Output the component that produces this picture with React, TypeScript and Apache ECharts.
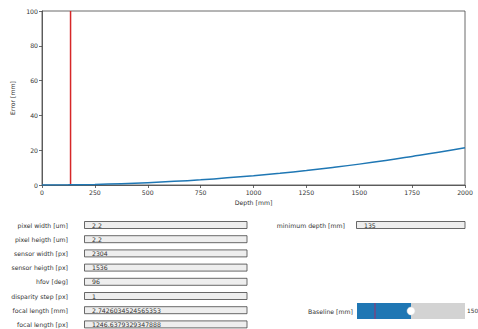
import React, { useEffect, useRef } from "react";
import * as echarts from "echarts";

const depthsMm = [0, 125, 250, 375, 500, 625, 750, 875, 1000, 1125, 1250, 1375, 1500, 1625, 1750, 1875, 2000];
const errorsMm = [0, 0.08, 0.33, 0.75, 1.34, 2.09, 3.0, 4.1, 5.35, 6.77, 8.36, 10.1, 12.0, 14.1, 16.4, 18.8, 21.4];
const minDepth = 135;
const xTicks = { min: 0, max: 2000, interval: 250 };
const yTicks = { min: 0, max: 100, interval: 20 };

const fieldLabels = [
  "pixel width [um]",
  "pixel heigth [um]",
  "sensor width [px]",
  "sensor heigth [px]",
  "hfov [deg]",
  "disparity step [px]",
  "focal length [mm]",
  "focal length [px]",
];
const fieldValues = ["2.2", "2.2", "2304", "1536", "96", "1", "2.7426034524565353", "1246.6379329347888"];

const sliderMin = 0;
const sliderMax = 300;
const sliderValue = 150;
const sliderInit = 50;

const FONT = "DejaVu Sans";
const FS = 6.2;
const TXT = "#333";

export default function App() {
  const ref = useRef<HTMLDivElement>(null);
  useEffect(() => {
    if (!ref.current) return;
    const chart = echarts.init(ref.current, null, { renderer: "svg" });

    const graphics: any[] = [];
    const rowY0 = 225;
    const rowStep = 14.2;
    fieldLabels.forEach((lab, i) => {
      const cy = rowY0 + i * rowStep;
      graphics.push({
        type: "text",
        x: 68,
        y: cy,
        style: { text: lab, fontSize: FS, fontFamily: FONT, fill: TXT, align: "right", verticalAlign: "middle" },
      });
      graphics.push({
        type: "rect",
        shape: { x: 84.5, y: cy - 3.5, width: 162.5, height: 7 },
        style: { fill: "#eeeeee", stroke: "#444", lineWidth: 0.8 },
      });
      graphics.push({
        type: "text",
        x: 92,
        y: cy,
        style: { text: fieldValues[i], fontSize: FS, fontFamily: FONT, fill: TXT, align: "left", verticalAlign: "middle" },
      });
    });

    // minimum depth box
    graphics.push({
      type: "text",
      x: 345,
      y: 225,
      style: { text: "minimum depth [mm]", fontSize: FS, fontFamily: FONT, fill: TXT, align: "right", verticalAlign: "middle" },
    });
    graphics.push({
      type: "rect",
      shape: { x: 356.5, y: 221.5, width: 108.5, height: 7 },
      style: { fill: "#eeeeee", stroke: "#444", lineWidth: 0.8 },
    });
    graphics.push({
      type: "text",
      x: 364,
      y: 225,
      style: { text: String(minDepth), fontSize: FS, fontFamily: FONT, fill: TXT, align: "left", verticalAlign: "middle" },
    });

    // slider
    const sx = 357, sw = 108, sy = 303, sh = 16;
    const frac = (sliderValue - sliderMin) / (sliderMax - sliderMin);
    const initFrac = (sliderInit - sliderMin) / (sliderMax - sliderMin);
    graphics.push({
      type: "text",
      x: 353,
      y: sy + sh / 2,
      style: { text: "Baseline [mm]", fontSize: FS, fontFamily: FONT, fill: TXT, align: "right", verticalAlign: "middle" },
    });
    graphics.push({ type: "rect", shape: { x: sx, y: sy, width: sw, height: sh }, style: { fill: "#d3d3d3" } });
    graphics.push({ type: "rect", shape: { x: sx, y: sy, width: sw * frac, height: sh }, style: { fill: "#1f77b4" } });
    graphics.push({
      type: "line",
      shape: { x1: sx + sw * initFrac, y1: sy, x2: sx + sw * initFrac, y2: sy + sh },
      style: { stroke: "#a0306a", lineWidth: 1 },
    });
    graphics.push({
      type: "circle",
      shape: { cx: sx + sw * frac, cy: sy + sh / 2, r: 4 },
      style: { fill: "#ffffff", stroke: "#dddddd", lineWidth: 0.5 },
    });
    graphics.push({
      type: "text",
      x: 467,
      y: sy + sh / 2,
      style: { text: String(sliderValue), fontSize: 5.8, fontFamily: FONT, fill: TXT, align: "left", verticalAlign: "middle" },
    });

    const axisLabel = { fontSize: FS, fontFamily: FONT, color: TXT, margin: 4, formatter: (v: number) => String(v) };

    chart.setOption({
      animation: false,
      backgroundColor: "#ffffff",
      grid: { left: 42, top: 11, right: 13, bottom: 144, show: true, borderColor: "#444", borderWidth: 0.8, backgroundColor: "transparent" },
      xAxis: {
        type: "value",
        min: xTicks.min,
        max: xTicks.max,
        interval: xTicks.interval,
        name: "Depth [mm]",
        nameLocation: "middle",
        nameGap: 14,
        nameTextStyle: { fontSize: FS, fontFamily: FONT, color: TXT },
        axisLine: { show: true, onZero: false, lineStyle: { color: "#444", width: 0.8 } },
        axisTick: { show: true, inside: false, length: 3, lineStyle: { color: "#444", width: 0.8 } },
        axisLabel,
        splitLine: { show: false },
      },
      yAxis: {
        type: "value",
        min: yTicks.min,
        max: yTicks.max,
        interval: yTicks.interval,
        name: "Error [mm]",
        nameLocation: "middle",
        nameGap: 20,
        nameRotate: 90,
        nameTextStyle: { fontSize: FS, fontFamily: FONT, color: TXT },
        axisLine: { show: true, lineStyle: { color: "#444", width: 0.8 } },
        axisTick: { show: true, inside: false, length: 3, lineStyle: { color: "#444", width: 0.8 } },
        axisLabel,
        splitLine: { show: false },
      },
      series: [
        {
          type: "line",
          data: depthsMm.map((d, i) => [d, errorsMm[i]]),
          smooth: true,
          showSymbol: false,
          lineStyle: { color: "#1f77b4", width: 1.5 },
          z: 3,
        },
        {
          type: "line",
          data: [
            [minDepth, yTicks.min],
            [minDepth, yTicks.max],
          ],
          showSymbol: false,
          lineStyle: { color: "#d62728", width: 1.5 },
          z: 2,
        },
      ],
      graphic: graphics,
    });
    return () => chart.dispose();
  }, []);

  return <div ref={ref} style={{ position: "absolute", left: 0, top: 0, width: 478, height: 329 }} />;
}
